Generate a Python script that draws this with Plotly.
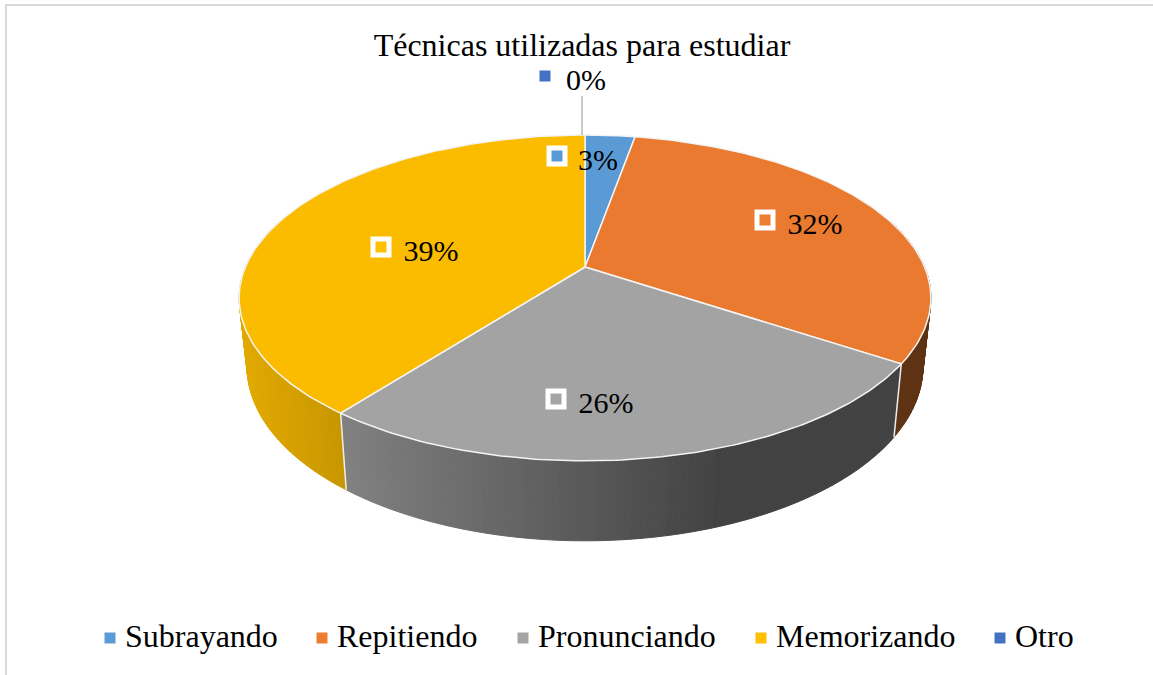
import numpy as np
import plotly.graph_objects as go

categories = ["Subrayando", "Repitiendo", "Pronunciando", "Memorizando", "Otro"]
values = [3, 32, 26, 39, 0]
title_text = "Técnicas utilizadas para estudiar"

colors = ["#5B9BD5", "#ED7D31", "#A5A5A5", "#FFC000", "#4472C4"]
top_colors = ["#5B9BD5", "#E97A2F", "#A3A3A3", "#FBBC00", "#4472C4"]

W, H = 1153, 675
FONT = "Liberation Serif"
CX, CY = 585, 267      # projected pie centre
A, B, K = 339.6, 157, 0.19   # perspective of the top face


def project(theta, r=1.0):
    u, v = r * np.sin(theta), r * np.cos(theta)
    w = 1 + K * v
    return CX + A * u / w, CY - B * v / w


def lower(x, y):
    # bottom rim of the wall, seen from the top rim
    depth = 80 - (461 - y) * 0.07
    return CX + 0.977 * (x - CX), y + depth


def shade(hex_color, x):
    f = max(0.4, 0.88 - 0.001 * (x - 245))
    rgb = [int(hex_color[i:i + 2], 16) for i in (1, 3, 5)]
    return "rgb({},{},{})".format(*[int(c * f) for c in rgb])


fig = go.Figure()

edges = np.cumsum([0] + values) / sum(values) * 2 * np.pi
# the perspective of the original pulls the slice borders back a little
edges = edges - np.radians(2.25 + 0.45 * np.sin(edges)) * np.sqrt(np.abs(np.sin(edges / 2)))

# side wall first, the top face covers whatever is hidden
for i in range(len(values)):
    if values[i] == 0:
        continue
    steps = max(2, int((edges[i + 1] - edges[i]) / np.radians(1)))
    th = np.linspace(edges[i], edges[i + 1], steps + 1)
    for t0, t1 in zip(th[:-1], th[1:]):
        if np.cos(t0) > 0.3 and np.cos(t1) > 0.3:
            continue
        x0, y0 = project(t0)
        x1, y1 = project(t1)
        x2, y2 = lower(x1, y1)
        x3, y3 = lower(x0, y0)
        c = shade(colors[i], (x0 + x1) / 2)
        fig.add_trace(go.Scatter(x=[x0, x1, x2, x3, x0], y=[y0, y1, y2, y3, y0],
                                 mode="lines", fill="toself", fillcolor=c,
                                 line=dict(width=1, color=c),
                                 hoverinfo="skip", showlegend=False))

# white seams on the wall
for e in edges[1:-1]:
    if np.cos(e) < 0.3:
        x0, y0 = project(e)
        x1, y1 = lower(x0, y0)
        fig.add_trace(go.Scatter(x=[x0, x1], y=[y0, y1], mode="lines",
                                 line=dict(width=1.5, color="#EDEDED"),
                                 hoverinfo="skip", showlegend=False))

# top face
for i in range(len(values)):
    if values[i] == 0:
        continue
    th = np.linspace(edges[i], edges[i + 1], 120)
    x, y = project(th)
    fig.add_trace(go.Scatter(x=np.r_[CX, x, CX], y=np.r_[CY, y, CY],
                             mode="lines", fill="toself", fillcolor=top_colors[i],
                             line=dict(width=1.5, color="#F4F4F4"),
                             name=categories[i], hoverinfo="name", showlegend=False))

# leader line of the empty slice
lx, ly = project(edges[-1])
fig.add_trace(go.Scatter(x=[lx - 3, lx - 3], y=[96, ly], mode="lines",
                         line=dict(width=1.2, color="#A6A6A6"),
                         hoverinfo="skip", showlegend=False))

# data labels, marker and text are placed by hand as in the original
marker_pos = {0: (557, 156), 1: (765, 220), 2: (556, 399), 3: (381, 247), 4: (545, 76)}
text_pos = {0: (598, 162), 1: (815, 226), 2: (606, 405), 3: (431, 253), 4: (586, 82)}
for i in range(len(values)):
    mx, my = marker_pos[i]
    tx, ty = text_pos[i]
    boxed = values[i] > 0
    fig.add_trace(go.Scatter(x=[mx], y=[my], mode="markers",
                             marker=dict(symbol="square", size=16 if boxed else 11, color=colors[i],
                                         line=dict(width=5 if boxed else 0, color="white")),
                             hoverinfo="skip", showlegend=False))
    fig.add_trace(go.Scatter(x=[tx], y=[ty], mode="text", text=["{}%".format(values[i])],
                             textposition="middle center",
                             textfont=dict(family=FONT, size=30, color="black"),
                             hoverinfo="skip", showlegend=False))

# legend row, plotly's own legend cannot get this spacing
legend_marker_x = [110, 322, 523, 761, 1000]
legend_text_x = [125, 337, 538, 776, 1015]
for name, c, mx, tx in zip(categories, colors, legend_marker_x, legend_text_x):
    fig.add_trace(go.Scatter(x=[mx], y=[638], mode="markers",
                             marker=dict(symbol="square", size=11, color=c),
                             name=name, hoverinfo="name", showlegend=False))
    fig.add_trace(go.Scatter(x=[tx], y=[639], mode="text", text=[name],
                             textposition="middle right",
                             textfont=dict(family=FONT, size=32, color="black"),
                             hoverinfo="skip", showlegend=False))

fig.update_layout(
    width=W, height=H,
    margin=dict(l=0, r=0, t=0, b=0),
    paper_bgcolor="white",
    plot_bgcolor="white",
    showlegend=False,
    title=dict(text=title_text, x=582 / W, xanchor="center", y=1 - 45 / H, yanchor="middle",
               font=dict(family=FONT, size=32, color="black")),
    xaxis=dict(range=[0, W], visible=False, fixedrange=True),
    yaxis=dict(range=[H, 0], visible=False, fixedrange=True),
    shapes=[dict(type="line", xref="x", yref="y", x0=6, x1=6, y0=4, y1=H, line=dict(color="#D9D9D9", width=2)),
            dict(type="line", xref="x", yref="y", x0=5, x1=W, y0=5, y1=5, line=dict(color="#D9D9D9", width=2))],
)

fig.write_html("out.html", config=dict(displayModeBar=False),
               post_script="document.body.style.margin='0';")
